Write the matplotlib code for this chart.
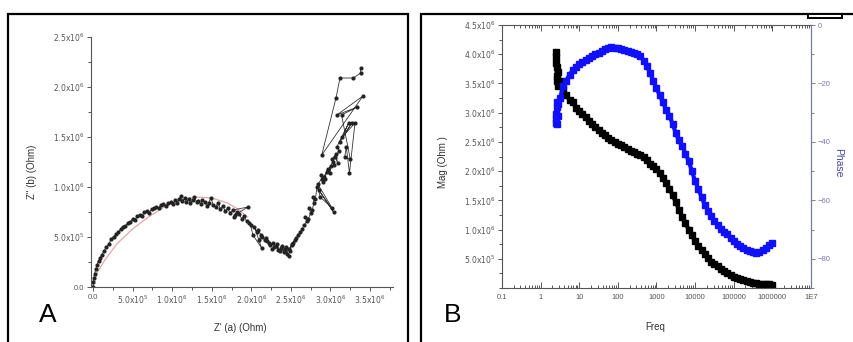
import numpy as np
import matplotlib
matplotlib.use("Agg")
import matplotlib.pyplot as plt
from matplotlib.patches import Rectangle
from matplotlib.ticker import FixedLocator, MultipleLocator, FuncFormatter

plt.rcParams['font.family'] = ['Liberation Sans', 'DejaVu Sans']

# ---- Panel A: Nyquist data (values in units of 1e6 Ohm) ----
z_real = [0.00, 0.005, 0.01, 0.02, 0.035, 0.05, 0.07, 0.09, 0.11, 0.14, 0.17, 0.20, 0.23, 0.26,
          0.29, 0.32, 0.35, 0.38, 0.41, 0.44, 0.47, 0.50, 0.53, 0.56, 0.59, 0.62, 0.65, 0.68,
          0.71, 0.74, 0.77, 0.80, 0.83, 0.86, 0.89, 0.92, 0.95, 0.98,
          1.01, 1.04, 1.06, 1.09, 1.11, 1.13, 1.16, 1.18, 1.21, 1.23, 1.26, 1.28, 1.31, 1.33,
          1.36, 1.38, 1.41, 1.44, 1.46, 1.49, 1.52, 1.55, 1.58, 1.61, 1.64, 1.67, 1.70, 1.73,
          1.77, 1.96, 1.79, 1.82, 1.78, 1.85, 1.88, 1.91, 1.94, 1.97,
          1.99, 2.02, 2.13, 2.04, 2.07, 2.09, 2.12, 2.10, 2.14, 2.17, 2.19, 2.22, 2.20, 2.24,
          2.27, 2.29, 2.26, 2.31, 2.34, 2.32, 2.36, 2.38, 2.41, 2.39, 2.43, 2.45, 2.42, 2.47,
          2.44, 2.49, 2.51, 2.48, 2.53, 2.55, 2.52, 2.57, 2.59, 2.62,
          2.64, 2.67, 2.70, 2.68, 2.72, 2.75, 2.73, 2.77, 2.79, 2.78, 2.81, 2.83, 3.04, 2.85,
          2.87, 3.02, 2.84, 2.89, 2.91, 2.88, 2.93, 2.95, 2.92, 2.97, 2.99, 3.01, 2.97, 3.03,
          3.05, 3.02, 3.07, 3.09, 3.06, 3.11, 3.08, 3.23, 3.12, 3.27, 3.15, 3.31, 3.24, 3.20,
          3.18, 3.25, 3.14, 3.34, 3.08, 3.41, 2.89, 3.07, 3.12, 3.29, 3.38, 3.38]
z_imag = [0.00, 0.05, 0.09, 0.13, 0.18, 0.22, 0.26, 0.29, 0.32, 0.36, 0.40, 0.43, 0.48, 0.50,
          0.53, 0.55, 0.58, 0.60, 0.61, 0.64, 0.65, 0.68, 0.67, 0.71, 0.72, 0.71, 0.75, 0.76,
          0.74, 0.78, 0.79, 0.80, 0.79, 0.82, 0.83, 0.81, 0.84, 0.85,
          0.83, 0.87, 0.84, 0.88, 0.91, 0.86, 0.89, 0.85, 0.88, 0.84, 0.87, 0.90, 0.85, 0.86,
          0.83, 0.87, 0.85, 0.81, 0.84, 0.89, 0.82, 0.80, 0.84, 0.78, 0.81, 0.76, 0.79, 0.74,
          0.77, 0.80, 0.72, 0.75, 0.70, 0.73, 0.68, 0.71, 0.66, 0.64,
          0.62, 0.52, 0.39, 0.60, 0.55, 0.57, 0.52, 0.47, 0.50, 0.47, 0.49, 0.44, 0.46, 0.42,
          0.44, 0.40, 0.38, 0.41, 0.37, 0.43, 0.36, 0.39, 0.35, 0.41, 0.37, 0.33, 0.38, 0.31,
          0.40, 0.36, 0.42, 0.38, 0.44, 0.47, 0.43, 0.49, 0.52, 0.55,
          0.58, 0.62, 0.66, 0.70, 0.68, 0.74, 0.79, 0.77, 0.84, 0.90, 0.88, 1.00, 0.75, 0.97,
          0.90, 0.79, 1.03, 1.08, 1.05, 1.12, 1.08, 1.15, 1.10, 1.18, 1.14, 1.21, 1.17, 1.25,
          1.22, 1.28, 1.33, 1.24, 1.30, 1.36, 1.40, 1.64, 1.45, 1.64, 1.50, 1.64, 1.14, 1.40,
          1.30, 1.28, 1.72, 1.80, 1.72, 1.91, 1.32, 1.89, 2.09, 2.09, 2.14, 2.19]

# fitted curve (1e6 Ohm)
fit_real = [0.0, 0.05, 0.15, 0.30, 0.50, 0.70, 0.90, 1.10, 1.30, 1.50, 1.70, 1.85, 1.95]
fit_imag = [0.0, 0.14, 0.27, 0.43, 0.58, 0.70, 0.80, 0.87, 0.90, 0.89, 0.84, 0.77, 0.70]

# ---- Panel B: Bode data ----
freq = [2.5, 2.5, 2.55, 2.6, 2.65, 2.7, 2.8, 2.9,
        3.2, 3.8, 4.6, 5.6, 6.8, 8.3,
        10, 12, 15, 18, 22, 26, 32, 38, 46, 56, 68, 83,
        100, 121, 147, 178, 215, 261, 316, 383, 464, 562, 681, 825,
        1000, 1210, 1470, 1780, 2150, 2610, 3160, 3830, 4640, 5620, 6810, 8250,
        10000, 12100, 14700, 17800, 21500, 26100, 31600, 38300, 46400, 56200, 68100, 82500,
        100000, 121000, 147000, 178000, 215000, 261000, 316000, 383000, 464000, 562000,
        681000, 825000, 1000000]
mag = [4.03, 3.95, 3.85, 3.78, 3.62, 3.55, 3.70, 3.45,
       3.55, 3.40, 3.30, 3.22, 3.18, 3.08,
       3.02, 2.97, 2.92, 2.86, 2.80, 2.76, 2.70, 2.66, 2.62, 2.57, 2.53, 2.50,
       2.47, 2.44, 2.41, 2.38, 2.35, 2.32, 2.29, 2.27, 2.24, 2.19, 2.13, 2.08,
       2.03, 1.96, 1.88, 1.80, 1.70, 1.59, 1.47, 1.34, 1.22, 1.11, 1.00, 0.90,
       0.81, 0.72, 0.65, 0.58, 0.52, 0.45, 0.41, 0.37, 0.33, 0.29, 0.25, 0.22,
       0.19, 0.17, 0.15, 0.13, 0.115, 0.10, 0.09, 0.08, 0.075, 0.07,
       0.065, 0.06, 0.055]
phase = [-33.5, -32.0, -30.5, -34.0, -28.0, -26.5, -31.0, -27.0,
         -25.0, -21.0, -19.0, -17.0, -15.5, -14.5,
         -13.5, -12.8, -12.0, -11.3, -10.5, -10.0, -9.5, -9.0, -8.3, -7.8, -7.4, -7.8,
         -8.0, -8.3, -8.6, -8.8, -9.1, -9.5, -9.8, -10.7, -12.2, -14.0, -16.5, -19.0,
         -21.7, -24.0, -26.5, -29.0, -31.0, -33.8, -37.0, -39.5, -41.5, -44.0, -46.5, -50.0,
         -53.5, -56.0, -59.0, -61.5, -63.5, -65.5, -67.0, -68.5, -69.8, -70.8, -71.5, -72.8,
         -74.0, -74.8, -75.5, -76.3, -77.0, -77.5, -77.8, -77.9, -77.6, -77.0,
         -76.2, -75.3, -74.5]

freq_ticks = [0.1, 1, 10, 100, 1000, 10000, 100000, 1000000, 10000000]
freq_labels = ['0.1', '1', '10', '100', '1000', '10000', '100000', '1000000', '1E7']


def sci_label(v, pos):
    if v == 0:
        return '0.0'
    exp = int(np.floor(np.log10(abs(v)) + 1e-9))
    mant = v / 10 ** exp
    return r'$%.1f\mathrm{x}10^{%d}$' % (mant, exp)


gray = '#555555'
fig = plt.figure(figsize=(8.54, 3.42), dpi=100)

# panel frames
fig.patches.append(Rectangle((8 / 854, -0.05), 400 / 854, 1 - 14 / 342 + 0.05, transform=fig.transFigure,
                             fill=False, lw=1.6, ec='black'))
fig.patches.append(Rectangle((421 / 854, -0.05), 0.6, 1 - 14 / 342 + 0.05, transform=fig.transFigure,
                             fill=False, lw=1.6, ec='black'))
fig.patches.append(Rectangle((808 / 854, 1 - 18 / 342), 34 / 854, 4 / 342, transform=fig.transFigure,
                             fill=True, fc='white', lw=1.4, ec='black'))

# ---- Panel A ----
axA = fig.add_axes([91 / 854, 1 - 287 / 342, 302 / 854, 250 / 342])
axA.plot(np.array(fit_real) * 1e6, np.array(fit_imag) * 1e6, color='#e0a8a8', lw=0.9, zorder=1)
axA.plot(np.array(z_real) * 1e6, np.array(z_imag) * 1e6, color='#333333', lw=0.6,
         marker='o', ms=2.0, mfc='#222222', mec='#222222', zorder=2)
axA.set_xlim(-0.025e6, 3.79e6)
axA.set_ylim(0, 2.5e6)
axA.spines['top'].set_visible(False)
axA.spines['right'].set_visible(False)
for s in ['left', 'bottom']:
    axA.spines[s].set_color(gray)
    axA.spines[s].set_linewidth(0.8)
axA.xaxis.set_major_locator(MultipleLocator(0.5e6))
axA.xaxis.set_minor_locator(MultipleLocator(0.25e6))
axA.yaxis.set_major_locator(MultipleLocator(0.5e6))
axA.yaxis.set_minor_locator(MultipleLocator(0.25e6))
axA.xaxis.set_major_formatter(FuncFormatter(sci_label))
axA.yaxis.set_major_formatter(FuncFormatter(sci_label))
axA.tick_params(which='both', direction='out', color=gray, labelcolor='#555555', labelsize=5.5, width=0.7)
axA.tick_params(which='major', length=3, pad=2)
axA.tick_params(which='minor', length=2)
axA.set_xlabel("Z' (a) (Ohm)", fontsize=7, color='#333333')
axA.set_ylabel("Z'' (b) (Ohm)", fontsize=7, color='#333333')
axA.xaxis.set_label_coords(0.493, -0.144)
axA.yaxis.set_label_coords(-0.179, 0.46)
fig.text(48 / 854, 1 - 315 / 342, 'A', fontsize=19, ha='center', va='center')

# ---- Panel B ----
axB = fig.add_axes([502 / 854, 1 - 288 / 342, 309 / 854, 263 / 342])
axB.plot(freq, np.array(mag) * 1e6, color='black', lw=3.0, marker='s', ms=4.5, mfc='black', mec='black')
axB.set_xscale('log')
axB.set_xlim(0.1, 1e7)
axB.set_ylim(0, 4.5e6)
axB.xaxis.set_major_locator(FixedLocator(freq_ticks))
axB.set_xticklabels(freq_labels)
axB.yaxis.set_major_locator(FixedLocator([0.5e6, 1.0e6, 1.5e6, 2.0e6, 2.5e6, 3.0e6, 3.5e6, 4.0e6, 4.5e6]))
axB.yaxis.set_minor_locator(MultipleLocator(0.25e6))
axB.yaxis.set_major_formatter(FuncFormatter(sci_label))
for s in ['left', 'bottom', 'top']:
    axB.spines[s].set_color(gray)
    axB.spines[s].set_linewidth(0.8)
axB.spines['right'].set_visible(False)
axB.tick_params(axis='x', which='both', direction='in', top=True, color=gray, labelcolor='#555555',
                labelsize=5.5, width=0.7)
axB.tick_params(axis='x', which='major', length=4, pad=4)
axB.tick_params(axis='x', which='minor', length=2)
axB.tick_params(axis='y', which='both', direction='out', color=gray, labelcolor='#555555',
                labelsize=5.5, width=0.7)
axB.tick_params(axis='y', which='major', length=3, pad=2)
axB.tick_params(axis='y', which='minor', length=2)
axB.set_xlabel('Freq', fontsize=7, color='#333333')
axB.set_ylabel('Mag (Ohm )', fontsize=7, color='#333333')
axB.xaxis.set_label_coords(0.495, -0.129)
axB.yaxis.set_label_coords(-0.175, 0.479)

phase_col = '#7878a8'
axP = axB.twinx()
axP.plot(freq, phase, color='#1010ff', lw=3.0, marker='s', ms=4.5, mfc='#1010ff', mec='#1010ff')
axP.set_ylim(-90, 0)
axP.yaxis.set_major_locator(FixedLocator([0, -20, -40, -60, -80]))
axP.yaxis.set_minor_locator(MultipleLocator(10))
for s in ['left', 'bottom', 'top']:
    axP.spines[s].set_visible(False)
axP.spines['right'].set_color(phase_col)
axP.spines['right'].set_linewidth(0.9)
axP.tick_params(axis='y', which='both', direction='out', color=phase_col, labelcolor=phase_col,
                labelsize=5.5, width=0.7)
axP.tick_params(axis='y', which='major', length=3, pad=2)
axP.tick_params(axis='y', which='minor', length=2)
axP.set_ylabel('Phase', fontsize=7.5, color='#4a4aa8', rotation=270)
axP.yaxis.set_label_coords(1.104, 0.475)
fig.text(453 / 854, 1 - 315 / 342, 'B', fontsize=19, ha='center', va='center')

fig.savefig('out.png', dpi=100)
